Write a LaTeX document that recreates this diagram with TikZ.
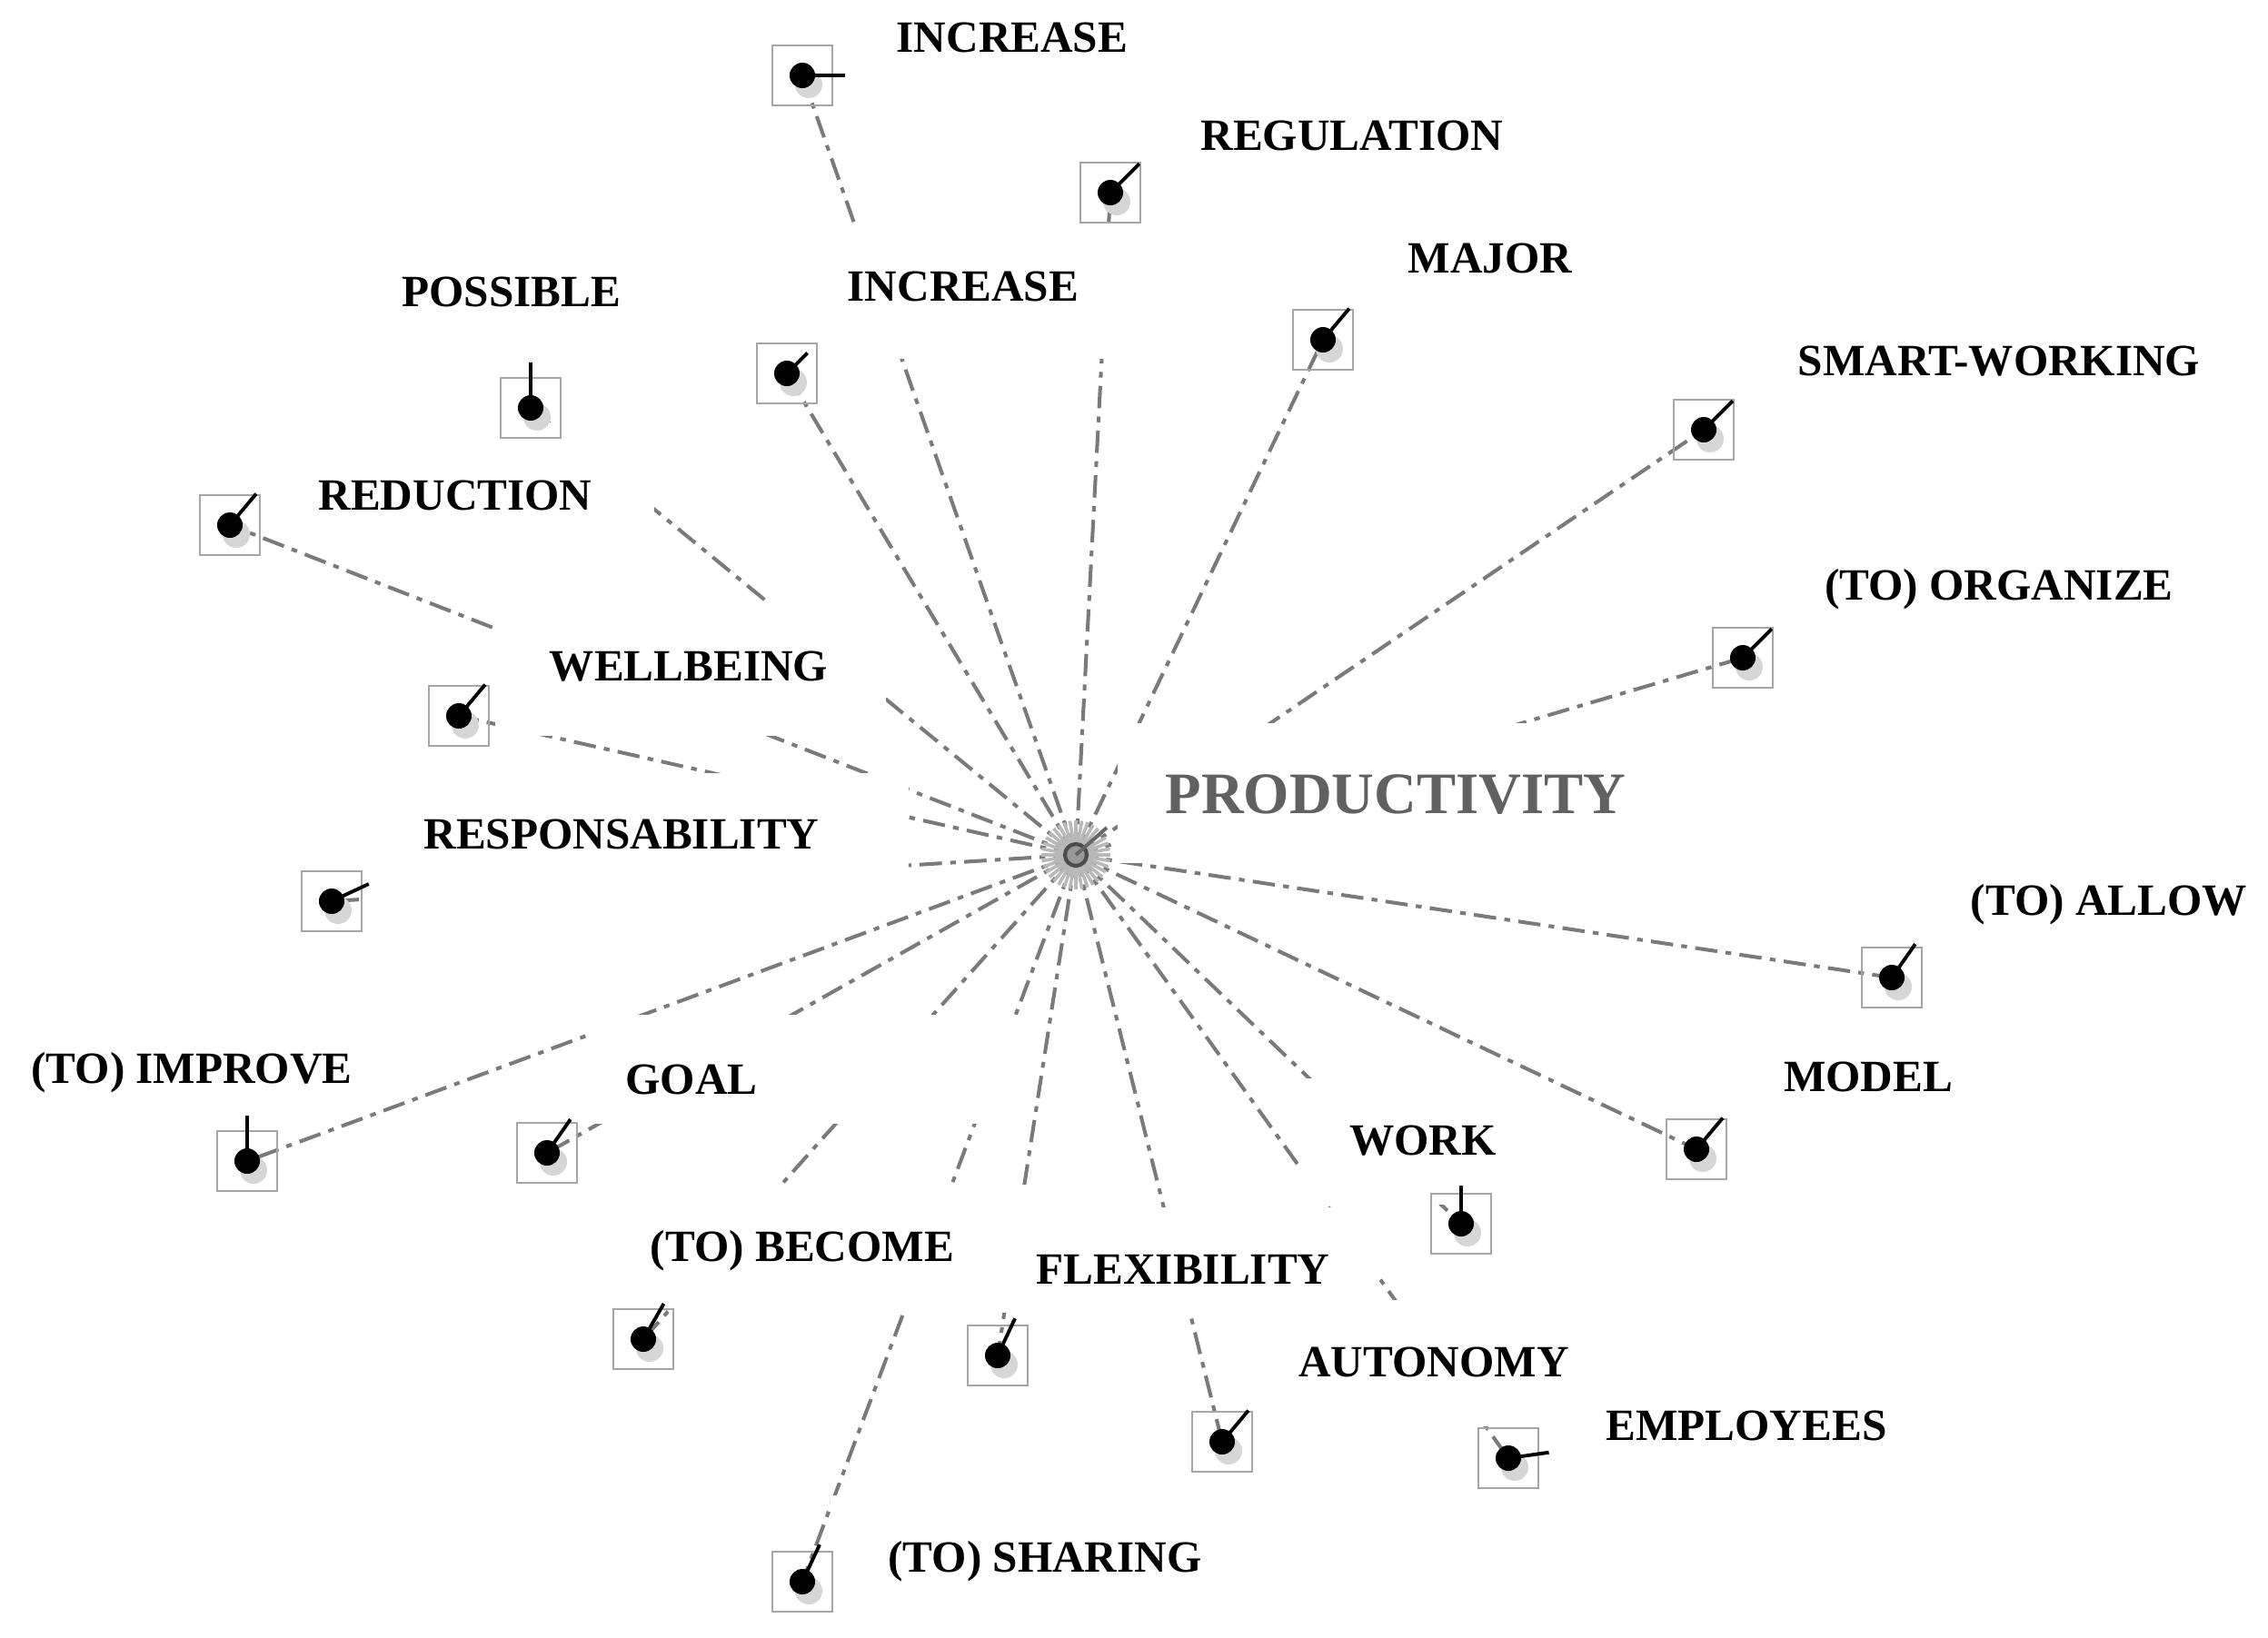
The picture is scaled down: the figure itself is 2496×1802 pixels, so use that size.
\documentclass[tikz,border=0pt]{standalone}
\usepackage{fontspec}
\setmainfont{Liberation Serif}
\pgfdeclarelayer{paper}
\pgfdeclarelayer{lines}
\pgfdeclarelayer{labels}
\pgfsetlayers{paper,lines,labels,main}
\begin{document}
\begin{tikzpicture}[x=0.01cm,y=-0.01cm,
  kw/.style={draw=black!35, line width=0.8pt, minimum size=0.66cm, inner sep=0pt},
  conn/.style={draw=black!52, line width=1.15pt, dash pattern=on 7pt off 2.6pt on 1.8pt off 2.6pt},
  lbl/.style={inner sep=0pt, anchor=base, font=\bfseries\fontsize{14}{16}\selectfont},
  hubtxt/.style={lbl, text=black!62, font=\bfseries\fontsize{18.4}{20}\selectfont},
  mask/.style={fill=white},
  tickline/.style={line width=1.1pt, draw=black},
  shade/.style={fill=black!16},
  ray/.style={draw=black!28, line width=1pt}]
\begin{pgfonlayer}{paper}
\fill[white] (0,0) rectangle (2496,1802);
\end{pgfonlayer}
\useasboundingbox (0,0) rectangle (2496,1802);

% keyword nodes
\node[kw] (inc1) at (883,83) {};
\node[kw] (reg) at (1222,212) {};
\node[kw] (maj) at (1456,374) {};
\node[kw] (smw) at (1875,473) {};
\node[kw] (org) at (1918,724) {};
\node[kw] (alw) at (2082,1076) {};
\node[kw] (mod) at (1867,1265) {};
\node[kw] (emp) at (1660,1605) {};
\node[kw] (wrk) at (1608,1347) {};
\node[kw] (aut) at (1345,1587) {};
\node[kw] (flx) at (1098,1492) {};
\node[kw] (shr) at (883,1741) {};
\node[kw] (bec) at (708,1474) {};
\node[kw] (gol) at (602,1269) {};
\node[kw] (imp) at (272,1278) {};
\node[kw] (rsp) at (365,992) {};
\node[kw] (wel) at (505,788) {};
\node[kw] (red) at (253,578) {};
\node[kw] (pos) at (584,449) {};
\node[kw] (inc2) at (866,411) {};

% hub
\foreach \a in {0,10,...,350}
  \draw[ray] (1184,941) -- ++({38*cos(\a)},{38*sin(\a)});
\node[circle, fill=black!40, draw=black!70, line width=1.2pt, minimum size=0.24cm, inner sep=0pt] (hub) at (1184,941) {};
\draw[line width=1.1pt, draw=black!60] (hub.center) -- ++(34,-30);

% dots, shadows, ticks
\foreach \n/\a/\l in {inc1/0/47, reg/45/45, maj/50/45, smw/45/45, org/45/45, alw/55/45,
  mod/50/45, emp/8/45, wrk/90/42, aut/50/45, flx/65/45, shr/65/45, bec/60/45,
  gol/55/45, imp/90/50, rsp/25/45, wel/50/45, red/50/45, pos/90/50, inc2/45/32} {
  \fill[shade] ([shift={(7,10)}]\n.center) circle (0.15cm);
  \fill[black] (\n.center) circle (0.14cm);
  \draw[tickline] (\n.center) -- ++({\l*cos(\a)},{-\l*sin(\a)});
}

% connectors
\begin{pgfonlayer}{lines}
\foreach \n in {inc1,reg,maj,smw,org,alw,mod,emp,wrk,aut,flx,shr,bec,gol,imp,rsp,wel,red,pos,inc2}
  \draw[conn] (hub.center) -- (\n.center);
\end{pgfonlayer}

% white label areas, then label texts
\begin{pgfonlayer}{labels}
\foreach \xa/\ya/\xb/\yb in {932/-30/1296/112, 1266/81/1710/220, 1497/216/1782/355,
  1919/329/2479/468, 1952/576/2454/715, 2115/923/2496/1062, 1908/1117/2204/1256,
  1715/1501/2129/1640, 1429/1187/1704/1326, 1373/1431/1784/1570, 1088/1329/1516/1445,
  914/1646/1386/1790, 655/1304/1135/1440, 650/1117/1130/1237, -30/1108/420/1215,
  395/851/1000/1005, 545/662/975/810, 300/465/720/585, 386/253/740/392,
  885/245/1228/395, 1230/796/1840/950}
  \fill[mask] (\xa,\ya) rectangle (\xb,\yb);
\node[lbl] (t-inc1) at (1114,57) {INCREASE};
\node[lbl] (t-reg) at (1488,165) {REGULATION};
\node[lbl] (t-maj) at (1640,300) {MAJOR};
\node[lbl] (t-smw) at (2200,413) {SMART-WORKING};
\node[lbl] (t-org) at (2200,660) {(TO) ORGANIZE};
\node[lbl] (t-alw) at (2321,1007) {(TO) ALLOW};
\node[lbl] (t-mod) at (2056,1201) {MODEL};
\node[lbl] (t-emp) at (1922,1585) {EMPLOYEES};
\node[lbl] (t-wrk) at (1566,1271) {WORK};
\node[lbl] (t-aut) at (1578,1515) {AUTONOMY};
\node[lbl] (t-flx) at (1302,1413) {FLEXIBILITY};
\node[lbl] (t-shr) at (1150,1730) {(TO) SHARING};
\node[lbl] (t-bec) at (883,1388) {(TO) BECOME};
\node[lbl] (t-gol) at (761,1204) {GOAL};
\node[lbl] (t-imp) at (211,1192) {(TO) IMPROVE};
\node[lbl] (t-rsp) at (684,934) {RESPONSABILITY};
\node[lbl] (t-wel) at (758,749) {WELLBEING};
\node[lbl] (t-red) at (501,561) {REDUCTION};
\node[lbl] (t-pos) at (563,337) {POSSIBLE};
\node[lbl] (t-inc2) at (1060,331) {INCREASE};
\node[hubtxt] (t-hub) at (1536,895) {PRODUCTIVITY};
\end{pgfonlayer}
\end{tikzpicture}
\end{document}
